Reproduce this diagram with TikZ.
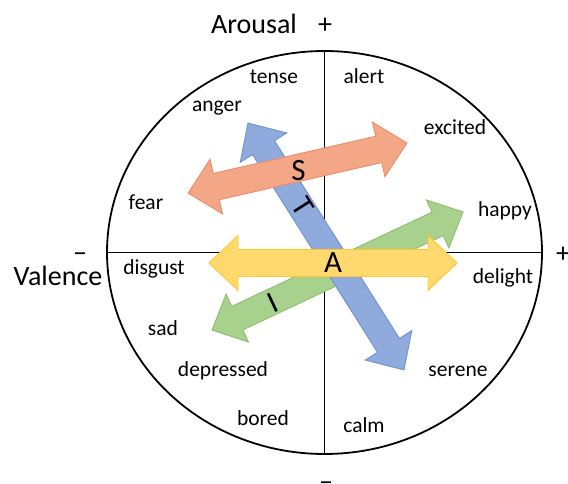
\documentclass[tikz,border=0pt]{standalone}
\usepackage{fontspec}
\setmainfont{Carlito}
\definecolor{orF}{RGB}{243,167,135}
\definecolor{orD}{RGB}{236,140,105}
\definecolor{blF}{RGB}{143,170,220}
\definecolor{blD}{RGB}{112,145,210}
\definecolor{grF}{RGB}{169,209,142}
\definecolor{grD}{RGB}{140,190,110}
\definecolor{yeF}{RGB}{255,217,110}
\definecolor{yeD}{RGB}{255,198,50}
\newcommand{\DblArrow}[7]{%
  \begin{scope}[shift={#2},rotate=#3]
    \path[#1] ({-#4},0) -- ({-#4+#7},#6) -- ({-#4+#7},#5) -- ({#4-#7},#5) -- ({#4-#7},#6) -- (#4,0)
      -- ({#4-#7},-#6) -- ({#4-#7},-#5) -- ({-#4+#7},-#5) -- ({-#4+#7},-#6) -- cycle;
  \end{scope}}
\begin{document}
\begin{tikzpicture}[x=1pt,y=-1pt,
  lbl/.style={font=\fontsize{21.5}{24}\selectfont, inner sep=0pt, anchor=base},
  big/.style={font=\fontsize{28}{32}\selectfont, inner sep=0pt, anchor=base},
  let/.style={font=\fontsize{31}{34}\selectfont, inner sep=0pt, anchor=center},
  axis/.style={line width=1.2pt},
  arr/.style={line width=0.9pt, line join=miter}]
\useasboundingbox (0,0) rectangle (568,484);
% circle and axes
\draw[line width=1.8pt] (324.5,252.5) ellipse [x radius=217.5pt, y radius=201.5pt];
\draw[axis] (324.5,51) -- (324.5,454);
\draw[axis] (107,252.5) -- (542,252.5);
% arrows
\DblArrow{arr, fill=grF, draw=grD}{(337.5,271)}{25.2}{138.7}{13}{26.5}{28}
\DblArrow{arr, fill=blF, draw=blD}{(326,246.5)}{-57.7}{146}{13}{27.5}{29}
\DblArrow{arr, fill=orF, draw=orD}{(297.5,168)}{12.9}{112.3}{13.5}{28}{29}
\DblArrow{arr, fill=yeF, draw=yeD}{(333,263)}{0}{124}{13.5}{27.5}{29}
% arrow letters
\node[let] (S) at (298.5,170.5) {S};
\node[let, rotate=-57.7] (T) at (303.3,206.7) {T};
\node[let, rotate=25.2] (I) at (272.3,303.3) {I};
\node[let] (A) at (333,263) {A};
% axis titles
\node[big] (arousal) at (254,33.3) {Arousal};
\node[big] (aplus) at (325,33.3) {+};
\node[big] (valence) at (58,285) {Valence};
\node[big] (vminus) at (80,261) {–};
\node[big] (vplus) at (563,262) {+};
\node[big] (aminus) at (326,490) {–};
% emotion labels
\node[lbl] (tense) at (274,83.3) {tense};
\node[lbl] (alert) at (364,83.3) {alert};
\node[lbl] (anger) at (217,111.7) {anger};
\node[lbl] (excited) at (455,135) {excited};
\node[lbl] (fear) at (146,210) {fear};
\node[lbl] (happy) at (505,216.7) {happy};
\node[lbl] (disgust) at (154,274.3) {disgust};
\node[lbl] (delight) at (503,283.3) {delight};
\node[lbl] (sad) at (163,335) {sad};
\node[lbl] (depressed) at (223,376.7) {depressed};
\node[lbl] (serene) at (458,376.7) {serene};
\node[lbl] (bored) at (263,425) {bored};
\node[lbl] (calm) at (364,432.7) {calm};
\end{tikzpicture}
\end{document}
